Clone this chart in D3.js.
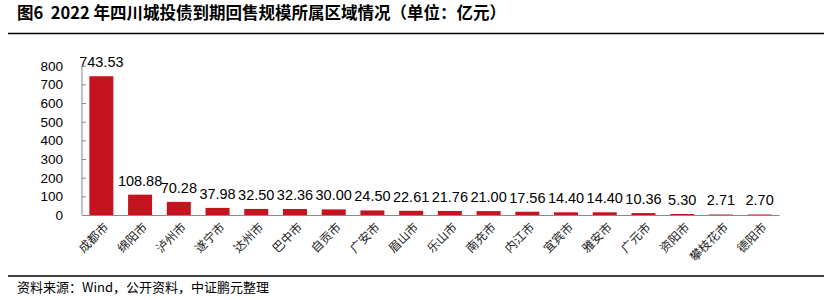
<!DOCTYPE html>
<html>
<head>
<meta charset="utf-8">
<script src="https://cdn.jsdelivr.net/npm/d3@7"></script>
<style>
  body { margin: 0; background: #fff; }
  svg { display: block; }
</style>
</head>
<body>
<svg id="chart" width="831" height="300"></svg>
<script>
var cities = ["成都市", "绵阳市", "泸州市", "遂宁市", "达州市", "巴中市", "自贡市", "广安市", "眉山市",
  "乐山市", "南充市", "内江市", "宜宾市", "雅安市", "广元市", "资阳市", "攀枝花市", "德阳市"]
var amounts = [743.53, 108.88, 70.28, 37.98, 32.50, 32.36, 30.00, 24.50, 22.61,
  21.76, 21.00, 17.56, 14.40, 14.40, 10.36, 5.30, 2.71, 2.70]
var yTicks = [0, 100, 200, 300, 400, 500, 600, 700, 800]

var titleText = "图6  2022 年四川城投债到期回售规模所属区域情况（单位：亿元）"
var sourceText = "资料来源：Wind，公开资料，中证鹏元整理"

var svg = d3.select("#chart")
var cjk = "'Noto Sans CJK SC', sans-serif"

// title + rules
svg.append("text")
    .attr("x", 17)
    .attr("y", 19)
    .style("white-space", "pre")
    .attr("font-family", cjk)
    .attr("font-weight", "bold")
    .attr("font-size", 16.5)
    .attr("fill", "#000")
    .text(titleText)

svg.append("line")
    .attr("x1", 8).attr("x2", 824)
    .attr("y1", 33.5).attr("y2", 33.5)
    .attr("stroke", "#000").attr("stroke-width", 1.5)

svg.append("line")
    .attr("x1", 8).attr("x2", 824)
    .attr("y1", 276).attr("y2", 276)
    .attr("stroke", "#000").attr("stroke-width", 1.5)

svg.append("text")
    .attr("x", 17)
    .attr("y", 292)
    .attr("font-family", cjk)
    .attr("font-size", 13)
    .attr("fill", "#000")
    .text(sourceText)

// plot area
var plotLeft = 82, plotRight = 779, plotTop = 65.7, plotBottom = 215

var x = d3.scaleBand()
    .domain(cities)
    .range([plotLeft, plotRight])
    .paddingInner(0.38)
    .paddingOuter(0.19)

var y = d3.scaleLinear()
    .domain([0, 800])
    .range([plotBottom, plotTop])

var g = svg.append("g")

g.selectAll(".bar")
    .data(amounts)
    .enter()
    .append("rect")
    .attr("class", "bar")
    .attr("x", (d, i) => x(cities[i]))
    .attr("width", x.bandwidth())
    .attr("y", d => y(d))
    .attr("height", d => y(0) - y(d))
    .attr("fill", "#C5141F")

// value labels
g.selectAll(".val")
    .data(amounts)
    .enter()
    .append("text")
    .attr("class", "val")
    .attr("x", (d, i) => x(cities[i]) + x.bandwidth() / 2)
    .attr("y", d => y(d) - 9)
    .attr("text-anchor", "middle")
    .attr("font-family", "'Liberation Sans', Arial, sans-serif")
    .attr("font-size", 14.5)
    .attr("fill", "#000")
    .text(d => d.toFixed(2))

// y axis (ticks inside)
var yAxis = d3.axisRight(y)
    .tickValues(yTicks)
    .tickSize(4)
    .tickFormat("")

var ya = svg.append("g")
    .attr("transform", "translate(" + plotLeft + ",0)")
    .call(yAxis)
ya.select(".domain").attr("stroke", "#898989").attr("d", "M0," + plotTop + "V" + plotBottom)
ya.selectAll(".tick line").attr("stroke", "#898989")

svg.append("g").selectAll("text")
    .data(yTicks)
    .enter()
    .append("text")
    .attr("x", 63)
    .attr("y", d => y(d))
    .attr("dy", "0.36em")
    .attr("text-anchor", "end")
    .attr("font-family", "'Liberation Sans', Arial, sans-serif")
    .attr("font-size", 13.5)
    .attr("fill", "#000")
    .text(d => d)

// x axis
var xAxis = d3.axisBottom(x).tickSize(0).tickFormat("")
var xa = svg.append("g")
    .attr("transform", "translate(0," + plotBottom + ")")
    .call(xAxis)
xa.select(".domain").attr("stroke", "#898989")

svg.append("g").selectAll("text")
    .data(cities)
    .enter()
    .append("text")
    .attr("transform", d => "translate(" + (x(d) + x.bandwidth() / 2 + 5) + "," + (plotBottom + 10) + ") rotate(-45)")
    .attr("dy", "0.35em")
    .attr("text-anchor", "end")
    .attr("font-family", cjk)
    .attr("font-size", 12)
    .attr("fill", "#222")
    .text(d => d)
</script>
</body>
</html>
